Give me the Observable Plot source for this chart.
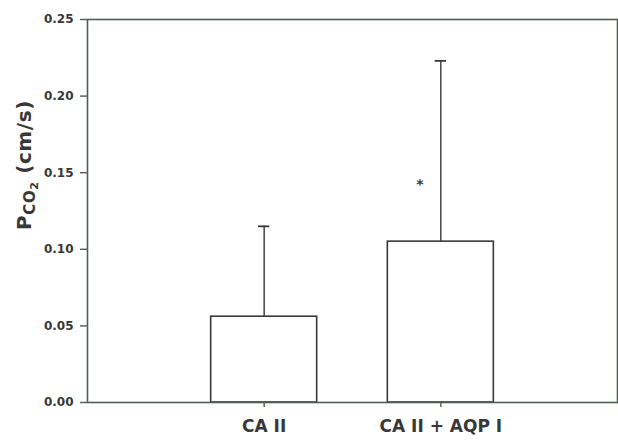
<!DOCTYPE html>
<html><head><meta charset="utf-8">
<script src="https://cdn.jsdelivr.net/npm/d3@7"></script>
<script src="https://cdn.jsdelivr.net/npm/@observablehq/plot@0.6"></script>
<style>body{margin:0;background:#fff}</style>
</head><body><div id="chart"></div>
<script>
const categories = ["CA II", "CA II + AQP I"];
const means = [0.056, 0.105];
const errors = [0.059, 0.118];
const sigCategory = ["CA II + AQP I"];
const sigY = [0.1436];
const yTicks = [0, 0.05, 0.10, 0.15, 0.20, 0.25];

const data = categories.map((c, i) => ({cat: c, pos: i + 1, mean: means[i], top: means[i] + errors[i]}));
const sig = sigCategory.map((c, i) => ({pos: categories.indexOf(c) + 1, y: sigY[i]}));
const frameColor = "#4d5f56";
const ink = "#383838";
const font = "DejaVu Sans, Arial, sans-serif";

const plot = Plot.plot({
  width: 618, height: 441,
  marginLeft: 87, marginRight: 1, marginTop: 19, marginBottom: 39,
  style: {fontFamily: font, background: "#fff", color: ink},
  x: {domain: [0, 3], axis: null},
  y: {domain: [0, 0.25], axis: null},
  marks: [
    Plot.rectY(data, {x1: d => d.pos - 0.3, x2: d => d.pos + 0.3, y1: 0, y2: "mean", fill: "#fff", stroke: ink, strokeWidth: 1.6}),
    Plot.ruleX(data, {x: "pos", y1: "mean", y2: "top", stroke: ink, strokeWidth: 1.4}),
    Plot.ruleY(data, {y: "top", x1: d => d.pos - 0.032, x2: d => d.pos + 0.032, stroke: ink, strokeWidth: 1.8}),
    Plot.text(sig, {x: "pos", y: "y", text: () => "*", dx: -21, dy: 2, fontSize: 14, fontWeight: "bold", fill: ink}),
    Plot.frame({stroke: frameColor, strokeWidth: 1.6}),
    Plot.axisY({ticks: yTicks, tickFormat: d3.format(".2f"), tickSize: 7, tickPadding: 7, stroke: frameColor, strokeWidth: 1.4, fontSize: 12, fontWeight: "bold", fill: ink, label: null}),
    Plot.axisX({ticks: [1, 2], tickFormat: d => categories[d - 1], tickSize: 5, tickPadding: 12, stroke: frameColor, strokeWidth: 1.4, fontSize: 17, fontWeight: "bold", fill: ink, label: null})
  ]
});

const svg = d3.select(plot);
const lab = svg.append("text")
  .attr("transform", "translate(31,165) rotate(-90)")
  .attr("text-anchor", "middle")
  .attr("font-family", font)
  .attr("font-weight", "bold")
  .attr("font-size", 20)
  .attr("letter-spacing", 0.6)
  .attr("fill", ink);
lab.append("tspan").text("P");
lab.append("tspan").attr("font-size", 15).attr("dy", 4).text("CO");
lab.append("tspan").attr("font-size", 11).attr("dy", 3).text("2");
lab.append("tspan").attr("dy", -7).text(" (cm/s)");

document.getElementById("chart").appendChild(plot);
</script>
</body></html>
